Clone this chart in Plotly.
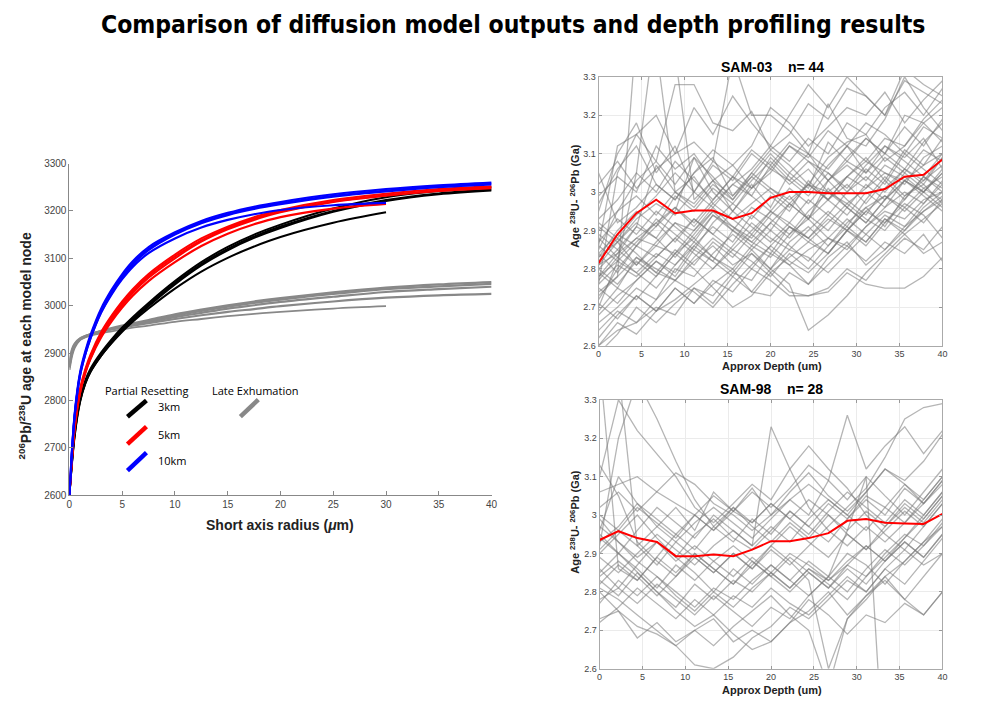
import plotly.graph_objects as go

# ---------------- Left panel: diffusion model outputs ----------------
RADIUS_40 = [0, 0.5, 1, 1.5, 2, 3, 4, 5, 6, 7.5, 10, 12.5, 15, 17.5, 20, 25, 30, 35, 40]
RADIUS_30 = [0, 0.5, 1, 1.5, 2, 3, 4, 5, 6, 7.5, 10, 12.5, 15, 17.5, 20, 25, 30]
GRAY_R_40 = [0, 0.25, 0.5, 1, 1.5, 2, 3, 4, 5, 6, 7.5, 10, 12.5, 15, 17.5, 20, 25, 30, 35, 40]
GRAY_R_30 = [0, 0.25, 0.5, 1, 1.5, 2, 3, 4, 5, 6, 7.5, 10, 12.5, 15, 17.5, 20, 25, 30]

km3_long = [
    [2600, 2730, 2800, 2838, 2863, 2897, 2925, 2950, 2972, 3002, 3048, 3088, 3120, 3146, 3167, 3200, 3223, 3237, 3245],
    [2600, 2725, 2796, 2835, 2860, 2894, 2922, 2947, 2969, 2999, 3045, 3085, 3117, 3143, 3164, 3198, 3221, 3235, 3243],
    [2600, 2735, 2804, 2842, 2867, 2901, 2929, 2954, 2976, 3006, 3052, 3092, 3124, 3150, 3171, 3205, 3229, 3242, 3250],
]
km3_short = [2600, 2728, 2798, 2836, 2861, 2894, 2921, 2945, 2966, 2994, 3036, 3072, 3101, 3125, 3145, 3175, 3197]

km5_long = [
    [2600, 2745, 2820, 2862, 2893, 2940, 2975, 3005, 3031, 3063, 3104, 3138, 3164, 3184, 3199, 3220, 3233, 3243, 3250],
    [2600, 2740, 2815, 2858, 2889, 2936, 2971, 3001, 3027, 3059, 3100, 3135, 3161, 3181, 3197, 3219, 3232, 3242, 3248],
    [2600, 2750, 2824, 2866, 2897, 2944, 2979, 3009, 3035, 3067, 3108, 3142, 3167, 3187, 3202, 3223, 3236, 3246, 3252],
]
km5_short = [2600, 2742, 2816, 2858, 2888, 2933, 2967, 2996, 3021, 3052, 3092, 3126, 3152, 3172, 3187, 3205, 3215]

km10_long = [
    [2600, 2770, 2855, 2900, 2935, 2990, 3030, 3063, 3090, 3120, 3152, 3176, 3193, 3206, 3216, 3232, 3243, 3252, 3258],
    [2600, 2766, 2851, 2896, 2931, 2986, 3026, 3060, 3087, 3117, 3150, 3174, 3191, 3204, 3214, 3230, 3241, 3250, 3256],
    [2600, 2774, 2859, 2904, 2939, 2994, 3034, 3067, 3094, 3124, 3155, 3179, 3196, 3209, 3219, 3235, 3246, 3254, 3260],
]
km10_short = [2600, 2768, 2852, 2897, 2931, 2985, 3024, 3056, 3082, 3111, 3142, 3165, 3181, 3193, 3202, 3212, 3217]

late_long = [
    [2865, 2895, 2912, 2928, 2935, 2940, 2947, 2953, 2958, 2963, 2970, 2982, 2992, 3001, 3009, 3016, 3028, 3038, 3045, 3050],
    [2870, 2900, 2915, 2929, 2935, 2939, 2946, 2951, 2956, 2961, 2968, 2979, 2989, 2998, 3006, 3013, 3025, 3035, 3041, 3046],
    [2875, 2905, 2918, 2930, 2936, 2940, 2946, 2951, 2955, 2960, 2966, 2976, 2985, 2994, 3001, 3008, 3019, 3029, 3035, 3040],
    [2880, 2908, 2920, 2931, 2936, 2940, 2945, 2950, 2954, 2958, 2963, 2972, 2980, 2987, 2993, 2999, 3009, 3017, 3022, 3025],
]
late_short = [2870, 2900, 2915, 2928, 2933, 2937, 2942, 2946, 2950, 2954, 2958, 2966, 2972, 2978, 2983, 2987, 2994, 2999]

LEFT_XTICKS = [0, 5, 10, 15, 20, 25, 30, 35, 40]
LEFT_YTICKS = [2600, 2700, 2800, 2900, 3000, 3100, 3200, 3300]

# ---------------- Right panels: depth profiles ----------------
DEPTH = [0, 2.2, 4.4, 6.7, 8.9, 11.1, 13.3, 15.6, 17.8, 20, 22.2, 24.4, 26.7, 28.9, 31.1, 33.3, 35.6, 37.8, 40]

SAM03_MEAN = [2.815, 2.89, 2.945, 2.98, 2.945, 2.952, 2.952, 2.93, 2.945, 2.985, 3.0, 3.0, 2.997, 2.997, 2.997, 3.008, 3.04, 3.045, 3.085]
SAM03 = [
    [2.81, 2.84, 2.88, 2.86, 2.92, 2.90, 2.95, 2.93, 2.97, 3.01, 2.98, 3.02, 3.00, 2.97, 3.01, 3.05, 3.03, 3.07, 3.10],
    [2.74, 2.78, 3.42, 3.38, 3.00, 3.04, 2.97, 3.02, 3.06, 3.12, 3.08, 3.14, 3.10, 3.18, 3.15, 3.22, 3.26, 3.20, 3.27],
    [2.70, 2.82, 3.05, 3.45, 3.36, 2.98, 3.03, 2.95, 3.01, 3.09, 3.04, 3.00, 3.07, 3.12, 3.05, 3.10, 3.17, 3.12, 3.19],
    [2.86, 3.12, 3.15, 3.08, 3.28, 3.28, 3.18, 3.16, 3.21, 3.11, 3.15, 3.23, 3.19, 3.27, 3.25, 3.20, 3.29, 3.26, 3.23],
    [3.05, 2.92, 2.96, 3.02, 2.98, 3.05, 3.09, 2.99, 3.04, 3.10, 3.05, 3.01, 3.13, 3.08, 3.14, 3.10, 3.20, 3.18, 3.13],
    [2.60, 2.64, 2.66, 2.70, 2.68, 2.75, 2.73, 2.79, 2.77, 2.84, 2.81, 2.85, 2.88, 2.86, 2.91, 2.95, 2.93, 2.98, 3.00],
    [2.66, 2.70, 2.75, 2.72, 2.80, 2.78, 2.84, 2.89, 2.85, 2.80, 2.87, 2.91, 2.86, 2.92, 2.96, 2.91, 2.99, 3.02, 2.97],
    [2.83, 2.87, 2.81, 2.86, 2.84, 2.90, 2.96, 2.91, 2.88, 2.94, 2.99, 2.93, 3.03, 2.98, 2.94, 3.01, 3.06, 3.03, 3.09],
    [2.78, 2.84, 2.91, 2.88, 2.95, 3.09, 3.00, 2.95, 3.02, 2.96, 3.05, 3.10, 3.03, 3.08, 3.05, 3.12, 3.09, 3.14, 3.06],
    [2.95, 3.10, 3.18, 3.05, 3.12, 3.00, 3.08, 3.35, 3.20, 3.20, 3.16, 3.10, 3.23, 3.14, 3.12, 3.19, 3.30, 3.22, 3.16],
    [2.88, 2.83, 2.79, 2.84, 2.81, 2.86, 2.82, 2.90, 2.87, 2.84, 2.91, 2.88, 2.93, 2.90, 2.95, 2.99, 2.96, 3.01, 3.04],
    [2.72, 2.80, 2.86, 2.93, 2.89, 2.85, 2.92, 2.97, 2.93, 2.99, 2.95, 3.03, 2.98, 3.04, 3.09, 3.03, 3.11, 3.07, 3.14],
    [2.62, 2.68, 2.73, 2.69, 2.75, 2.71, 2.76, 2.80, 2.74, 2.73, 2.79, 2.76, 2.83, 2.87, 2.81, 2.85, 2.90, 2.95, 2.99],
    [2.85, 2.95, 3.03, 3.08, 3.02, 3.09, 3.04, 2.98, 3.05, 3.11, 3.07, 3.02, 3.09, 3.13, 3.15, 3.08, 3.12, 3.19, 3.24],
    [2.80, 2.76, 2.82, 2.78, 2.84, 2.88, 2.83, 2.80, 2.86, 2.83, 2.89, 2.93, 2.88, 2.85, 2.91, 2.96, 3.00, 2.97, 3.03],
    [2.91, 2.87, 2.93, 2.97, 2.94, 3.00, 2.96, 3.02, 2.99, 3.07, 3.02, 3.06, 3.00, 3.04, 3.08, 3.05, 3.02, 3.09, 3.12],
    [2.76, 2.81, 2.78, 2.83, 2.88, 2.84, 2.80, 2.86, 2.92, 2.88, 2.85, 2.90, 2.95, 2.91, 2.98, 3.04, 2.99, 3.03, 3.07],
    [2.68, 2.73, 2.77, 2.82, 2.79, 2.86, 2.91, 2.87, 2.94, 2.90, 2.97, 2.93, 3.01, 2.96, 3.02, 2.98, 3.05, 3.01, 2.98],
    [2.84, 2.89, 2.86, 2.91, 2.96, 2.92, 2.98, 3.04, 3.01, 3.06, 3.03, 3.08, 3.05, 3.00, 3.06, 3.02, 3.10, 3.06, 3.02],
    [2.99, 3.04, 3.00, 3.12, 3.06, 3.10, 3.03, 3.07, 3.01, 3.05, 3.12, 3.09, 3.16, 3.12, 3.18, 3.15, 3.10, 3.17, 3.14],
    [2.79, 2.75, 2.83, 2.79, 2.77, 2.82, 2.86, 2.81, 2.84, 2.79, 2.83, 2.87, 2.84, 2.90, 2.86, 2.92, 2.97, 2.94, 2.88],
    [2.87, 2.93, 2.89, 2.95, 2.91, 2.87, 2.94, 2.90, 2.96, 2.93, 2.89, 2.95, 3.00, 2.96, 2.92, 2.98, 3.03, 3.00, 3.05],
    [2.64, 2.69, 2.66, 2.72, 2.77, 2.74, 2.70, 2.76, 2.81, 2.86, 2.82, 2.79, 2.84, 2.90, 2.87, 2.93, 2.90, 2.96, 3.00],
    [2.93, 2.98, 3.05, 3.00, 3.08, 3.03, 2.98, 3.04, 2.99, 2.95, 3.01, 2.97, 3.03, 3.07, 3.03, 3.09, 3.05, 3.11, 3.08],
    [2.82, 2.88, 2.84, 2.79, 2.85, 2.81, 2.87, 2.83, 2.89, 2.85, 2.81, 2.76, 2.81, 2.86, 2.82, 2.87, 2.84, 2.89, 2.82],
    [2.77, 2.83, 2.88, 2.92, 2.87, 2.93, 2.89, 2.95, 2.91, 2.87, 2.92, 2.98, 2.94, 3.00, 3.04, 3.00, 3.06, 3.02, 3.09],
    [2.71, 2.67, 2.73, 2.69, 2.75, 2.71, 2.77, 2.74, 2.80, 2.77, 2.73, 2.73, 2.75, 2.80, 2.77, 2.83, 2.88, 2.85, 2.91],
    [2.90, 2.95, 2.99, 2.94, 3.00, 2.97, 3.03, 2.99, 3.05, 3.01, 2.97, 3.02, 2.98, 2.94, 3.00, 2.96, 3.03, 2.99, 2.95],
    [2.97, 3.06, 3.12, 3.02, 2.98, 3.05, 3.11, 3.07, 3.12, 3.22, 3.18, 3.12, 3.17, 3.22, 3.20, 3.26, 3.18, 3.24, 3.29],
    [2.80, 2.85, 2.81, 2.87, 2.92, 2.88, 2.94, 2.91, 2.87, 2.92, 2.97, 2.93, 2.98, 3.02, 2.97, 3.03, 2.98, 3.04, 3.01],
    [2.75, 2.71, 2.77, 2.82, 2.78, 2.85, 2.82, 2.78, 2.84, 2.80, 2.85, 2.83, 2.79, 2.84, 2.89, 2.85, 2.91, 2.95, 2.98],
    [2.86, 2.82, 2.87, 2.92, 2.96, 2.91, 2.97, 2.93, 2.89, 2.95, 2.92, 2.88, 2.94, 2.90, 2.96, 2.99, 2.95, 3.00, 3.06],
    [2.58, 2.63, 2.70, 2.66, 2.71, 2.75, 2.71, 2.78, 2.74, 2.80, 2.76, 2.64, 2.68, 2.73, 2.79, 2.84, 2.89, 2.93, 2.97],
    [3.02, 3.08, 3.01, 3.06, 3.10, 3.13, 3.08, 3.04, 3.11, 3.07, 3.13, 3.10, 3.06, 3.12, 3.08, 3.14, 3.12, 3.18, 3.22],
    [2.84, 2.79, 2.86, 2.83, 2.88, 2.93, 2.89, 2.85, 2.90, 2.95, 2.91, 2.87, 2.92, 2.97, 2.93, 2.90, 2.96, 2.92, 2.98],
    [2.73, 2.78, 2.83, 2.80, 2.77, 2.83, 2.88, 2.84, 2.80, 2.86, 2.91, 2.88, 2.84, 2.90, 2.95, 2.92, 2.98, 3.04, 3.00],
    [2.89, 2.85, 2.91, 3.07, 3.00, 2.96, 3.02, 2.98, 3.04, 3.00, 2.96, 3.02, 2.98, 3.04, 3.01, 3.07, 3.04, 3.00, 2.96],
    [2.81, 2.87, 2.92, 2.88, 2.83, 2.89, 2.95, 2.90, 2.86, 2.92, 2.88, 2.94, 2.90, 2.96, 2.92, 2.98, 3.03, 3.00, 3.05],
    [2.69, 2.75, 2.72, 2.78, 2.84, 2.80, 2.75, 2.70, 2.73, 2.79, 2.74, 2.73, 2.74, 2.79, 2.76, 2.75, 2.75, 2.78, 2.83],
    [2.78, 2.82, 2.79, 2.75, 2.81, 2.87, 2.83, 2.79, 2.85, 2.90, 2.86, 2.82, 2.88, 2.93, 2.89, 2.94, 2.91, 2.97, 3.02],
    [2.60, 2.66, 2.63, 2.69, 2.72, 2.76, 2.80, 2.85, 2.82, 2.78, 2.84, 2.80, 2.86, 2.91, 2.87, 2.93, 2.89, 2.84, 2.87],
    [2.83, 2.90, 2.95, 2.91, 2.99, 2.95, 3.01, 2.97, 3.03, 3.08, 3.03, 2.99, 3.05, 3.01, 3.07, 3.12, 3.08, 3.04, 3.10],
    [2.92, 2.88, 2.94, 2.99, 3.05, 3.00, 3.07, 3.03, 3.10, 3.06, 3.12, 3.08, 3.03, 3.09, 3.14, 3.10, 3.06, 3.13, 3.18],
    [2.76, 3.05, 3.15, 3.20, 3.10, 3.22, 3.15, 3.25, 3.18, 3.12, 3.20, 3.28, 3.22, 3.30, 3.25, 3.20, 3.32, 3.28, 3.25],
]

SAM98_MEAN = [2.935, 2.958, 2.94, 2.93, 2.893, 2.893, 2.897, 2.893, 2.91, 2.932, 2.932, 2.94, 2.953, 2.985, 2.99, 2.98, 2.978, 2.977, 3.003]
SAM98 = [
    [3.40, 2.86, 2.83, 2.89, 2.95, 2.91, 2.97, 2.93, 2.99, 2.95, 3.01, 2.97, 3.03, 2.99, 3.05, 3.02, 3.08, 3.04, 3.10],
    [3.35, 3.38, 2.92, 2.87, 2.93, 2.89, 2.85, 2.90, 2.86, 2.92, 2.97, 2.93, 2.89, 2.95, 2.91, 2.97, 3.03, 2.99, 3.05],
    [3.13, 3.05, 2.93, 2.88, 2.84, 2.90, 2.86, 2.82, 2.88, 2.84, 2.80, 2.85, 2.81, 2.87, 2.92, 2.88, 2.94, 3.00, 3.06],
    [2.72, 2.76, 2.81, 2.77, 2.73, 2.78, 2.74, 2.79, 2.76, 2.81, 2.77, 2.74, 2.79, 2.84, 2.80, 2.86, 2.82, 2.88, 2.94],
    [2.96, 3.10, 3.03, 2.97, 3.02, 2.96, 3.06, 3.01, 3.07, 3.00, 3.06, 3.11, 3.05, 3.01, 3.06, 3.12, 3.08, 3.03, 3.09],
    [2.83, 2.79, 2.85, 2.80, 2.76, 2.82, 2.78, 2.83, 2.80, 2.85, 2.81, 2.86, 2.83, 2.87, 2.84, 2.90, 2.95, 2.92, 2.97],
    [2.90, 2.95, 3.00, 2.94, 2.89, 2.95, 2.99, 2.94, 2.91, 2.96, 3.01, 2.97, 2.93, 2.99, 3.04, 3.00, 3.07, 3.03, 3.08],
    [2.78, 2.81, 2.87, 2.93, 2.89, 2.85, 2.80, 2.86, 2.82, 2.87, 2.83, 2.79, 2.84, 2.80, 2.86, 2.91, 2.87, 2.92, 2.98],
    [3.06, 3.08, 3.10, 3.06, 3.03, 3.00, 3.05, 3.01, 2.98, 3.03, 2.99, 3.04, 3.00, 2.96, 3.01, 2.97, 3.02, 2.98, 3.04],
    [2.85, 2.90, 2.86, 2.81, 2.87, 2.83, 2.88, 2.92, 2.88, 2.84, 2.89, 2.85, 2.81, 2.86, 2.82, 2.88, 2.93, 2.89, 2.95],
    [2.94, 2.90, 2.96, 3.02, 2.98, 2.94, 3.00, 2.96, 2.92, 2.97, 2.93, 2.99, 3.04, 3.00, 2.96, 3.02, 2.98, 3.04, 3.10],
    [2.73, 2.75, 2.68, 2.72, 2.67, 2.70, 2.73, 2.67, 2.70, 2.67, 2.72, 2.78, 2.74, 2.69, 2.74, 2.72, 2.77, 2.74, 2.80],
    [2.80, 2.75, 2.71, 2.69, 2.66, 2.61, 2.60, 2.63, 2.68, 2.71, 2.76, 2.73, 2.78, 2.83, 2.80, 2.86, 2.91, 2.97, 3.03],
    [3.00, 2.96, 3.02, 2.98, 2.94, 3.00, 2.96, 3.02, 2.98, 3.03, 2.99, 2.95, 3.01, 3.06, 3.02, 2.98, 3.04, 3.00, 3.06],
    [2.92, 3.20, 3.35, 3.25, 3.14, 3.04, 2.97, 3.02, 2.97, 2.93, 2.98, 2.94, 3.00, 2.95, 2.91, 2.96, 3.01, 2.97, 3.03],
    [3.02, 3.06, 3.01, 3.06, 3.11, 3.08, 3.03, 3.00, 2.96, 3.00, 3.04, 3.08, 3.04, 3.00, 3.06, 3.12, 3.09, 3.14, 3.21],
    [2.77, 2.83, 2.79, 2.84, 2.80, 2.76, 2.81, 2.78, 2.83, 2.87, 2.83, 2.88, 2.84, 2.90, 2.87, 2.82, 2.88, 2.93, 2.99],
    [2.89, 2.85, 2.90, 2.95, 2.91, 2.87, 2.92, 2.96, 2.92, 3.23, 3.12, 3.02, 2.96, 2.92, 2.97, 2.93, 2.98, 3.03, 3.09],
    [2.99, 2.93, 2.89, 2.93, 2.88, 2.92, 2.88, 2.84, 2.89, 2.85, 2.90, 2.87, 2.83, 2.88, 2.92, 2.88, 2.93, 2.89, 2.95],
    [2.82, 2.87, 2.83, 2.89, 2.85, 2.90, 2.86, 2.82, 2.87, 2.92, 2.88, 2.83, 2.60, 2.73, 2.78, 2.84, 2.88, 2.93, 2.97],
    [2.93, 2.97, 3.03, 2.99, 2.95, 3.00, 2.96, 3.01, 3.06, 3.02, 3.07, 3.13, 3.09, 3.04, 3.10, 3.05, 3.00, 3.06, 3.12],
    [2.86, 2.81, 2.77, 2.82, 2.78, 2.74, 2.79, 2.75, 2.71, 2.76, 2.73, 2.79, 2.84, 2.96, 3.10, 2.30, None, None, None],
    [2.97, 2.93, 2.88, 2.84, 2.79, 2.75, 2.80, 2.76, 2.81, 2.85, 2.81, 2.86, 2.82, 2.78, 2.84, 2.89, 2.94, 2.99, 3.05],
    [2.81, 2.78, 2.74, 2.70, 2.66, 2.70, 2.66, 2.71, 2.75, 2.79, 2.74, 2.70, 2.55, 2.73, 2.79, 2.84, 2.78, 2.84, 2.90],
    [2.91, 2.96, 2.92, 2.97, 2.93, 2.98, 3.02, 2.98, 2.94, 2.99, 3.04, 3.00, 3.09, 3.26, 3.12, 3.18, 3.23, 3.16, 3.22],
    [2.95, 2.90, 2.85, 2.80, 2.75, 2.71, 2.74, 2.69, 2.65, 2.67, 2.72, 2.75, 2.80, 2.74, 2.79, 2.83, 2.78, 2.74, 2.80],
    [2.84, 2.88, 2.84, 2.79, 2.84, 2.89, 2.85, 2.90, 2.86, 2.91, 2.87, 2.92, 2.97, 3.02, 3.07, 3.15, 3.25, 3.28, 3.29],
    [3.10, 3.30, 3.22, 3.16, 3.10, 3.02, 2.98, 3.03, 3.08, 3.04, 3.12, 3.18, 3.12, 3.07, 3.00, 2.95, 2.91, 2.87, 2.90],
]

DEPTH_TICKS = [0, 5, 10, 15, 20, 25, 30, 35, 40]
AGE_TICKS = [2.6, 2.7, 2.8, 2.9, 3.0, 3.1, 3.2, 3.3]
AGE_TICK_TEXT = ["2.6", "2.7", "2.8", "2.9", "3", "3.1", "3.2", "3.3"]

# ---------------- Build figure ----------------
fig = go.Figure()

def model_line(xs, ys, color, width=2.0):
    fig.add_trace(go.Scatter(x=xs, y=ys, mode="lines", line=dict(color=color, width=width, shape="spline", smoothing=1.0),
                             xaxis="x", yaxis="y", showlegend=False, hoverinfo="skip"))

GRAY = "#888888"
for ys in late_long:
    model_line(GRAY_R_40, ys, GRAY, 2.2)
model_line(GRAY_R_30, late_short, GRAY, 1.8)
for ys in km3_long:
    model_line(RADIUS_40, ys, "black")
model_line(RADIUS_30, km3_short, "black", 2.0)
for ys in km5_long:
    model_line(RADIUS_40, ys, "red")
model_line(RADIUS_30, km5_short, "red", 2.2)
for ys in km10_long:
    model_line(RADIUS_40, ys, "blue")
model_line(RADIUS_30, km10_short, "blue", 2.2)

PROFILE_GRAY = "rgba(120,120,120,0.55)"
for ys in SAM03:
    fig.add_trace(go.Scatter(x=DEPTH, y=ys, mode="lines", line=dict(color=PROFILE_GRAY, width=1.3),
                             xaxis="x2", yaxis="y2", showlegend=False, hoverinfo="skip", connectgaps=False))
fig.add_trace(go.Scatter(x=DEPTH, y=SAM03_MEAN, mode="lines", line=dict(color="#ff0000", width=2),
                         xaxis="x2", yaxis="y2", showlegend=False, hoverinfo="skip"))
for ys in SAM98:
    fig.add_trace(go.Scatter(x=DEPTH, y=ys, mode="lines", line=dict(color=PROFILE_GRAY, width=1.3),
                             xaxis="x3", yaxis="y3", showlegend=False, hoverinfo="skip", connectgaps=False))
fig.add_trace(go.Scatter(x=DEPTH, y=SAM98_MEAN, mode="lines", line=dict(color="#ff0000", width=2),
                         xaxis="x3", yaxis="y3", showlegend=False, hoverinfo="skip"))

TICKFONT = dict(family="Liberation Sans, Arial, sans-serif", size=10, color="#444444")
SMALLTICK = dict(family="Liberation Sans, Arial, sans-serif", size=9, color="#444444")

left_x = dict(domain=[0.067, 0.493], range=[0, 40], tickvals=LEFT_XTICKS, ticks="inside", ticklen=4,
              tickcolor="#888888", showline=True, linecolor="#888888", linewidth=1, showgrid=False,
              zeroline=False, tickfont=TICKFONT, anchor="y")
left_y = dict(domain=[0.3074, 0.7761], range=[2600, 3300], tickvals=LEFT_YTICKS, ticks="inside", ticklen=4,
              tickcolor="#888888", showline=True, linecolor="#888888", linewidth=1, showgrid=False,
              zeroline=False, tickfont=TICKFONT, anchor="x")

def right_axes(xdom, ydom, anchor_x, anchor_y):
    xa = dict(domain=xdom, range=[0, 40], tickvals=DEPTH_TICKS, ticks="inside", ticklen=3, tickcolor="#999999",
              showline=True, mirror="ticks", linecolor="#aaaaaa", linewidth=1, showgrid=True, gridcolor="#ebebeb",
              zeroline=False, tickfont=SMALLTICK, anchor=anchor_y)
    ya = dict(domain=ydom, range=[2.6, 3.3], tickvals=AGE_TICKS, ticktext=AGE_TICK_TEXT, ticks="inside", ticklen=3,
              tickcolor="#999999", showline=True, mirror="ticks", linecolor="#aaaaaa", linewidth=1, showgrid=True,
              gridcolor="#ebebeb", zeroline=False, tickfont=SMALLTICK, anchor=anchor_x)
    return xa, ya

x2, y2 = right_axes([0.601, 0.948], [0.5188, 0.8985], "x2", "y2")
x3, y3 = right_axes([0.602, 0.948], [0.0626, 0.4423], "x3", "y3")

BOLD = "Liberation Sans, Arial, sans-serif"
LEG = "Open Sans, Lato, sans-serif"

annotations = [
    dict(text="<b>Comparison of diffusion model outputs and depth profiling results</b>", x=0.5145, y=1 - 20 / 719,
         xref="paper", yref="paper", showarrow=False, xanchor="center", yanchor="middle",
         font=dict(family="DejaVu Sans Condensed, Liberation Sans Narrow, sans-serif", size=24.5, color="black")),
    dict(text="<b><sup>206</sup>Pb/<sup>238</sup>U age at each model node</b>", x=22 / 1000, y=1 - 346 / 719,
         xref="paper", yref="paper", showarrow=False, textangle=-90, xanchor="center", yanchor="middle",
         font=dict(family=BOLD, size=14, color="#222222")),
    dict(text="<b>Short axis radius (<i>μ</i>m)</b>", x=280 / 1000, y=1 - 528 / 719, xref="paper", yref="paper",
         showarrow=False, xanchor="center", yanchor="middle", font=dict(family=BOLD, size=14, color="#222222")),
    # legend labels (left panel)
    dict(text="Partial Resetting", x=7.3, y=2822, xref="x", yref="y", showarrow=False,
         font=dict(family=LEG, size=11, color="black")),
    dict(text="3km", x=8.2, y=2787, xref="x", yref="y", showarrow=False, xanchor="left",
         font=dict(family=LEG, size=11, color="black")),
    dict(text="5km", x=8.2, y=2729, xref="x", yref="y", showarrow=False, xanchor="left",
         font=dict(family=LEG, size=11, color="black")),
    dict(text="10km", x=8.2, y=2673, xref="x", yref="y", showarrow=False, xanchor="left",
         font=dict(family=LEG, size=11, color="black")),
    dict(text="Late Exhumation", x=17.6, y=2822, xref="x", yref="y", showarrow=False,
         font=dict(family=LEG, size=11, color="black")),
    # right panels
    dict(text="<b>SAM-03    n= 44</b>", x=776 / 1000, y=1 - 63 / 719, xref="paper", yref="paper", showarrow=False,
         xanchor="center", yanchor="middle", font=dict(family=BOLD, size=14, color="black")),
    dict(text="<b>Approx Depth (um)</b>", x=776 / 1000, y=1 - 367 / 719, xref="paper", yref="paper", showarrow=False,
         xanchor="center", yanchor="middle", font=dict(family=BOLD, size=11, color="#222222")),
    dict(text="<b>Age <sup>238</sup>U- <sup>206</sup>Pb (Ga)</b>", x=577 / 1000, y=1 - 194 / 719, xref="paper",
         yref="paper", showarrow=False, textangle=-90, xanchor="center", yanchor="middle",
         font=dict(family=BOLD, size=11, color="#222222")),
    dict(text="<b>SAM-98    n= 28</b>", x=775 / 1000, y=1 - 390 / 719, xref="paper", yref="paper", showarrow=False,
         xanchor="center", yanchor="middle", font=dict(family=BOLD, size=14, color="black")),
    dict(text="<b>Approx Depth (um)</b>", x=776 / 1000, y=1 - 696 / 719, xref="paper", yref="paper", showarrow=False,
         xanchor="center", yanchor="middle", font=dict(family=BOLD, size=11, color="#222222")),
    dict(text="<b>Age <sup>238</sup>U- <sup>206</sup>Pb (Ga)</b>", x=577 / 1000, y=1 - 525 / 719, xref="paper",
         yref="paper", showarrow=False, textangle=-90, xanchor="center", yanchor="middle",
         font=dict(family=BOLD, size=11, color="#222222")),
]

shapes = []
for (y0, y1, col) in [(2766, 2800, "black"), (2708, 2745, "red"), (2652, 2690, "blue")]:
    shapes.append(dict(type="line", xref="x", yref="y", x0=5.5, x1=7.3, y0=y0, y1=y1, line=dict(color=col, width=4.5)))
shapes.append(dict(type="line", xref="x", yref="y", x0=16.2, x1=17.9, y0=2766, y1=2802, line=dict(color=GRAY, width=4.5)))

fig.update_layout(
    width=1000, height=719, margin=dict(l=0, r=0, t=0, b=0),
    paper_bgcolor="white", plot_bgcolor="white", showlegend=False,
    xaxis=left_x, yaxis=left_y, xaxis2=x2, yaxis2=y2, xaxis3=x3, yaxis3=y3,
    annotations=annotations, shapes=shapes,
)

fig.write_html("out.html", config={"displayModeBar": False},
               post_script="document.body.style.margin='0px'; document.body.style.overflow='hidden';")
